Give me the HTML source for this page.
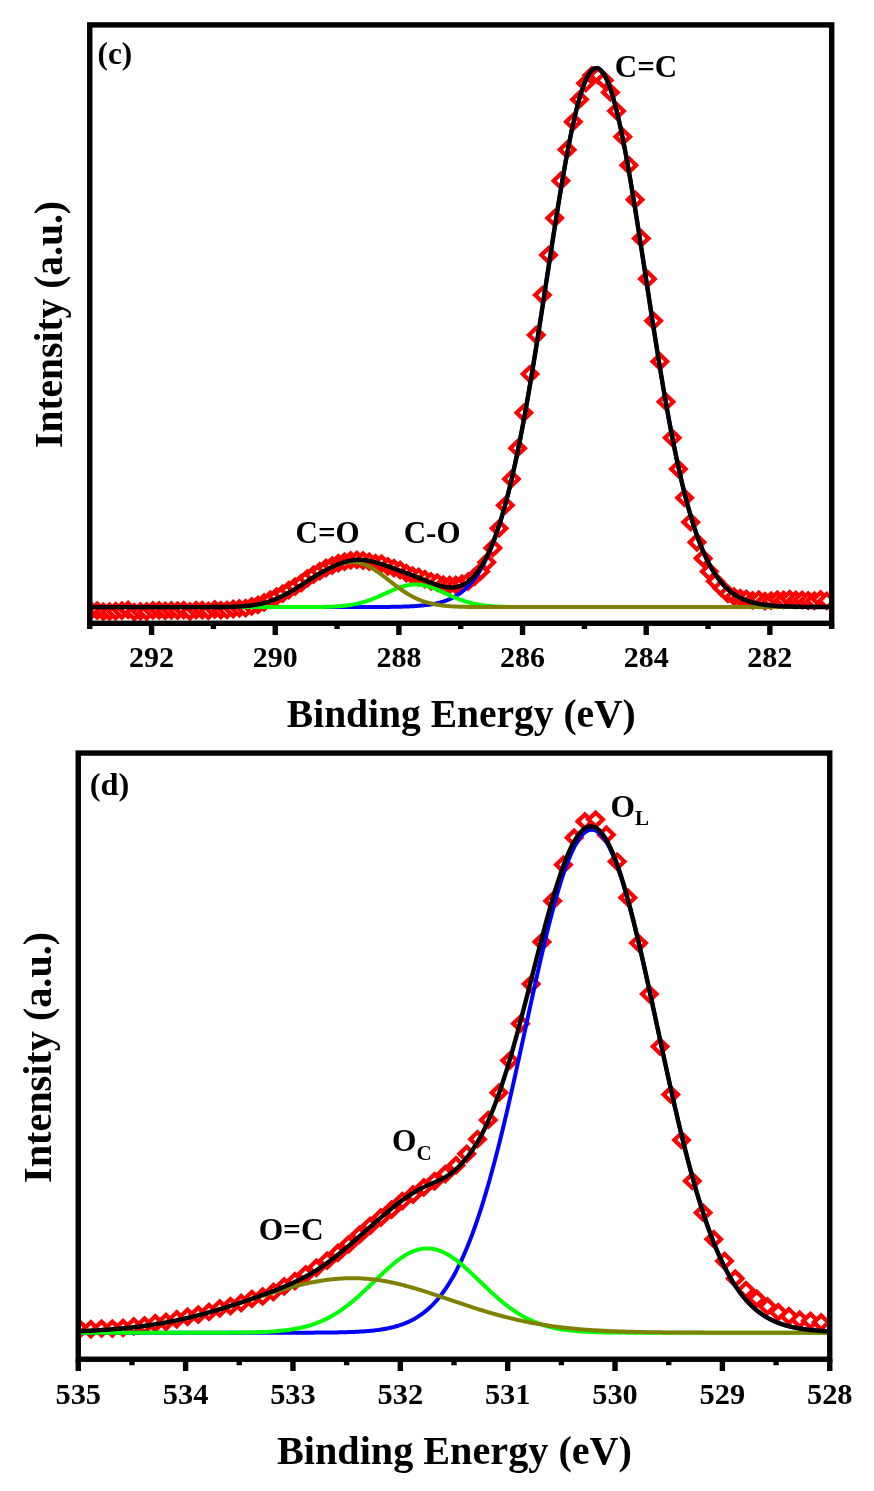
<!DOCTYPE html>
<html lang="en">
<head>
<meta charset="utf-8">
<title>XPS spectra: C 1s and O 1s</title>
<style>
html,body{margin:0;padding:0;background:#fff;}
body{width:874px;height:1491px;overflow:hidden;}
svg{display:block;will-change:transform;}
text{font-family:"Liberation Serif", "Times New Roman", Times, serif;font-weight:bold;fill:#000;}
.curve{fill:none;stroke-linejoin:round;stroke-linecap:butt;}
.mk{fill:#fff;stroke:#ff0000;stroke-width:4.25;stroke-linejoin:miter;}
</style>
</head>
<body>
<svg width="874" height="1491" viewBox="0 0 874 1491">
<rect x="0" y="0" width="874" height="1491" fill="#ffffff"/>
<defs>
<path id="dm" d="M-7.2 0L0 -6.95L7.2 0L0 6.95Z"/>
<clipPath id="clip1"><rect x="89.75" y="24.9" width="741.95" height="598.4"/></clipPath>
<clipPath id="clip2"><rect x="78.25" y="753.05" width="751.5" height="606.2"/></clipPath>
</defs>
<!-- panel (c): C 1s -->
<g clip-path="url(#clip1)">
<g class="mk"><use href="#dm" x="91" y="610.7"/><use href="#dm" x="97.18" y="610.6"/><use href="#dm" x="103.37" y="611.65"/><use href="#dm" x="109.55" y="611.66"/><use href="#dm" x="115.73" y="611.27"/><use href="#dm" x="121.91" y="610.55"/><use href="#dm" x="128.1" y="609.94"/><use href="#dm" x="134.28" y="612.05"/><use href="#dm" x="140.46" y="611.3"/><use href="#dm" x="146.65" y="611.48"/><use href="#dm" x="152.83" y="610.32"/><use href="#dm" x="159.01" y="610.33"/><use href="#dm" x="165.2" y="610.88"/><use href="#dm" x="171.38" y="610.43"/><use href="#dm" x="177.56" y="610.55"/><use href="#dm" x="183.75" y="610.08"/><use href="#dm" x="189.93" y="611.52"/><use href="#dm" x="196.11" y="610.12"/><use href="#dm" x="202.29" y="610.15"/><use href="#dm" x="208.48" y="610.83"/><use href="#dm" x="214.66" y="609.48"/><use href="#dm" x="220.84" y="610.2"/><use href="#dm" x="227.03" y="609.97"/><use href="#dm" x="233.21" y="608.98"/><use href="#dm" x="239.39" y="608.46"/><use href="#dm" x="245.57" y="608.22"/><use href="#dm" x="251.76" y="606.31"/><use href="#dm" x="257.94" y="604.87"/><use href="#dm" x="264.12" y="602.43"/><use href="#dm" x="270.31" y="599.72"/><use href="#dm" x="276.49" y="596.66"/><use href="#dm" x="282.67" y="593.7"/><use href="#dm" x="288.86" y="590.12"/><use href="#dm" x="295.04" y="586.63"/><use href="#dm" x="301.22" y="583.1"/><use href="#dm" x="307.4" y="578.29"/><use href="#dm" x="313.59" y="574.64"/><use href="#dm" x="319.77" y="571.18"/><use href="#dm" x="325.95" y="568"/><use href="#dm" x="332.14" y="565.58"/><use href="#dm" x="338.32" y="563.21"/><use href="#dm" x="344.5" y="561.72"/><use href="#dm" x="350.69" y="560.28"/><use href="#dm" x="356.87" y="559.94"/><use href="#dm" x="363.05" y="560.48"/><use href="#dm" x="369.24" y="561.72"/><use href="#dm" x="375.42" y="563.1"/><use href="#dm" x="381.6" y="563.58"/><use href="#dm" x="387.78" y="566.31"/><use href="#dm" x="393.97" y="568.19"/><use href="#dm" x="400.15" y="570"/><use href="#dm" x="406.33" y="573.12"/><use href="#dm" x="412.52" y="575.56"/><use href="#dm" x="418.7" y="576.96"/><use href="#dm" x="424.88" y="579.18"/><use href="#dm" x="431.06" y="581.28"/><use href="#dm" x="437.25" y="582.56"/><use href="#dm" x="443.43" y="584.7"/><use href="#dm" x="449.61" y="584.89"/><use href="#dm" x="455.8" y="584.94"/><use href="#dm" x="461.98" y="583.7"/><use href="#dm" x="468.16" y="581.49"/><use href="#dm" x="474.35" y="576.96"/><use href="#dm" x="480.53" y="571.44"/><use href="#dm" x="486.71" y="562.32"/><use href="#dm" x="492.89" y="548"/><use href="#dm" x="499.08" y="528.36"/><use href="#dm" x="505.26" y="505.28"/><use href="#dm" x="511.44" y="478.95"/><use href="#dm" x="517.63" y="448.16"/><use href="#dm" x="523.81" y="412.82"/><use href="#dm" x="529.99" y="374.05"/><use href="#dm" x="536.18" y="335.01"/><use href="#dm" x="542.36" y="295.09"/><use href="#dm" x="548.54" y="255.07"/><use href="#dm" x="554.72" y="218.04"/><use href="#dm" x="560.91" y="180.73"/><use href="#dm" x="567.09" y="149.65"/><use href="#dm" x="573.27" y="121.87"/><use href="#dm" x="579.46" y="99.42"/><use href="#dm" x="585.64" y="83.21"/><use href="#dm" x="591.82" y="75.3"/><use href="#dm" x="598.01" y="75.43"/><use href="#dm" x="604.19" y="80.31"/><use href="#dm" x="610.37" y="92.4"/><use href="#dm" x="616.55" y="111.04"/><use href="#dm" x="622.74" y="136.68"/><use href="#dm" x="628.92" y="165.26"/><use href="#dm" x="635.1" y="199.64"/><use href="#dm" x="641.29" y="238.44"/><use href="#dm" x="647.47" y="278.89"/><use href="#dm" x="653.65" y="320.84"/><use href="#dm" x="659.84" y="361.51"/><use href="#dm" x="666.02" y="401.84"/><use href="#dm" x="672.2" y="437.81"/><use href="#dm" x="678.38" y="469.01"/><use href="#dm" x="684.57" y="497.83"/><use href="#dm" x="690.75" y="522.13"/><use href="#dm" x="696.93" y="542.27"/><use href="#dm" x="703.12" y="558.39"/><use href="#dm" x="709.3" y="571.53"/><use href="#dm" x="715.48" y="581.37"/><use href="#dm" x="721.67" y="587.95"/><use href="#dm" x="727.85" y="593.84"/><use href="#dm" x="734.03" y="596.64"/><use href="#dm" x="740.22" y="598.08"/><use href="#dm" x="746.4" y="598.8"/><use href="#dm" x="752.58" y="600.39"/><use href="#dm" x="758.76" y="599.72"/><use href="#dm" x="764.95" y="601.08"/><use href="#dm" x="771.13" y="600.68"/><use href="#dm" x="777.31" y="599.63"/><use href="#dm" x="783.5" y="599.9"/><use href="#dm" x="789.68" y="599.06"/><use href="#dm" x="795.86" y="599.95"/><use href="#dm" x="802.04" y="599.98"/><use href="#dm" x="808.23" y="600.52"/><use href="#dm" x="814.41" y="600.75"/><use href="#dm" x="820.59" y="599.45"/><use href="#dm" x="826.78" y="600.78"/></g>
<path class="curve" stroke="#0000ff" stroke-width="4" d="M89.75 607.1L91.25 607.1L92.75 607.1L94.25 607.1L95.75 607.1L97.25 607.1L98.75 607.1L100.25 607.1L101.75 607.1L103.25 607.1L104.75 607.1L106.25 607.1L107.75 607.1L109.25 607.1L110.75 607.1L112.25 607.1L113.75 607.1L115.25 607.1L116.75 607.1L118.25 607.1L119.75 607.1L121.25 607.1L122.75 607.1L124.25 607.1L125.75 607.1L127.25 607.1L128.75 607.1L130.25 607.1L131.75 607.1L133.25 607.1L134.75 607.1L136.25 607.1L137.75 607.1L139.25 607.1L140.75 607.1L142.25 607.1L143.75 607.1L145.25 607.1L146.75 607.1L148.25 607.1L149.75 607.1L151.25 607.1L152.75 607.1L154.25 607.1L155.75 607.1L157.25 607.1L158.75 607.1L160.25 607.1L161.75 607.1L163.25 607.1L164.75 607.1L166.25 607.1L167.75 607.1L169.25 607.1L170.75 607.1L172.25 607.1L173.75 607.1L175.25 607.1L176.75 607.1L178.25 607.1L179.75 607.1L181.25 607.1L182.75 607.1L184.25 607.1L185.75 607.1L187.25 607.1L188.75 607.1L190.25 607.1L191.75 607.1L193.25 607.1L194.75 607.1L196.25 607.1L197.75 607.1L199.25 607.1L200.75 607.1L202.25 607.1L203.75 607.1L205.25 607.1L206.75 607.1L208.25 607.1L209.75 607.1L211.25 607.1L212.75 607.1L214.25 607.1L215.75 607.1L217.25 607.1L218.75 607.1L220.25 607.1L221.75 607.1L223.25 607.1L224.75 607.1L226.25 607.1L227.75 607.1L229.25 607.1L230.75 607.1L232.25 607.1L233.75 607.1L235.25 607.1L236.75 607.1L238.25 607.1L239.75 607.1L241.25 607.1L242.75 607.1L244.25 607.1L245.75 607.1L247.25 607.1L248.75 607.1L250.25 607.1L251.75 607.1L253.25 607.1L254.75 607.1L256.25 607.1L257.75 607.1L259.25 607.1L260.75 607.1L262.25 607.1L263.75 607.1L265.25 607.1L266.75 607.1L268.25 607.1L269.75 607.1L271.25 607.1L272.75 607.1L274.25 607.1L275.75 607.1L277.25 607.1L278.75 607.1L280.25 607.1L281.75 607.1L283.25 607.1L284.75 607.1L286.25 607.1L287.75 607.1L289.25 607.1L290.75 607.1L292.25 607.1L293.75 607.1L295.25 607.1L296.75 607.1L298.25 607.1L299.75 607.1L301.25 607.1L302.75 607.1L304.25 607.1L305.75 607.1L307.25 607.1L308.75 607.1L310.25 607.1L311.75 607.1L313.25 607.1L314.75 607.1L316.25 607.1L317.75 607.1L319.25 607.1L320.75 607.1L322.25 607.1L323.75 607.1L325.25 607.1L326.75 607.1L328.25 607.1L329.75 607.1L331.25 607.1L332.75 607.1L334.25 607.1L335.75 607.09L337.25 607.09L338.75 607.09L340.25 607.09L341.75 607.09L343.25 607.09L344.75 607.09L346.25 607.09L347.75 607.09L349.25 607.09L350.75 607.08L352.25 607.08L353.75 607.08L355.25 607.08L356.75 607.08L358.25 607.07L359.75 607.07L361.25 607.07L362.75 607.07L364.25 607.06L365.75 607.06L367.25 607.05L368.75 607.05L370.25 607.04L371.75 607.04L373.25 607.03L374.75 607.02L376.25 607.02L377.75 607.01L379.25 607L380.75 606.99L382.25 606.97L383.75 606.96L385.25 606.95L386.75 606.93L388.25 606.91L389.75 606.89L391.25 606.87L392.75 606.85L394.25 606.82L395.75 606.8L397.25 606.76L398.75 606.73L400.25 606.69L401.75 606.65L403.25 606.61L404.75 606.56L406.25 606.5L407.75 606.44L409.25 606.38L410.75 606.31L412.25 606.23L413.75 606.14L415.25 606.05L416.75 605.95L418.25 605.83L419.75 605.71L421.25 605.58L422.75 605.43L424.25 605.27L425.75 605.1L427.25 604.91L428.75 604.7L430.25 604.48L431.75 604.23L433.25 603.97L434.75 603.68L436.25 603.36L437.75 603.02L439.25 602.66L440.75 602.26L442.25 601.82L443.75 601.36L445.25 600.85L446.75 600.31L448.25 599.72L449.75 599.08L451.25 598.4L452.75 597.66L454.25 596.87L455.75 596.02L457.25 595.11L458.75 594.13L460.25 593.07L461.75 591.95L463.25 590.74L464.75 589.45L466.25 588.08L467.75 586.61L469.25 585.04L470.75 583.37L472.25 581.6L473.75 579.71L475.25 577.7L476.75 575.57L478.25 573.32L479.75 570.93L481.25 568.39L482.75 565.72L484.25 562.89L485.75 559.91L487.25 556.77L488.75 553.47L490.25 549.99L491.75 546.33L493.25 542.5L494.75 538.48L496.25 534.27L497.75 529.86L499.25 525.25L500.75 520.45L502.25 515.44L503.75 510.22L505.25 504.78L506.75 499.14L508.25 493.28L509.75 487.2L511.25 480.91L512.75 474.41L514.25 467.68L515.75 460.74L517.25 453.59L518.75 446.23L520.25 438.67L521.75 430.9L523.25 422.93L524.75 414.77L526.25 406.43L527.75 397.91L529.25 389.21L530.75 380.36L532.25 371.35L533.75 362.21L535.25 352.93L536.75 343.54L538.25 334.04L539.75 324.45L541.25 314.78L542.75 305.05L544.25 295.28L545.75 285.47L547.25 275.66L548.75 265.85L550.25 256.07L551.75 246.32L553.25 236.65L554.75 227.05L556.25 217.55L557.75 208.18L559.25 198.95L560.75 189.88L562.25 180.99L563.75 172.31L565.25 163.85L566.75 155.63L568.25 147.68L569.75 140.01L571.25 132.64L572.75 125.59L574.25 118.87L575.75 112.51L577.25 106.52L578.75 100.92L580.25 95.72L581.75 90.93L583.25 86.58L584.75 82.66L586.25 79.19L587.75 76.17L589.25 73.63L590.75 71.56L592.25 69.97L593.75 68.86L595.25 68.24L596.75 68.11L598.25 68.47L599.75 69.32L601.25 70.65L602.75 72.47L604.25 74.76L605.75 77.52L607.25 80.75L608.75 84.43L610.25 88.56L611.75 93.12L613.25 98.1L614.75 103.49L616.25 109.27L617.75 115.43L619.25 121.96L620.75 128.83L622.25 136.04L623.75 143.55L625.25 151.36L626.75 159.44L628.25 167.77L629.75 176.33L631.25 185.12L632.75 194.09L634.25 203.24L635.75 212.54L637.25 221.97L638.75 231.52L640.25 241.15L641.75 250.86L643.25 260.63L644.75 270.43L646.25 280.24L647.75 290.05L649.25 299.84L650.75 309.6L652.25 319.3L653.75 328.93L655.25 338.48L656.75 347.93L658.25 357.27L659.75 366.49L661.25 375.58L662.75 384.51L664.25 393.29L665.75 401.91L667.25 410.35L668.75 418.6L670.25 426.67L671.75 434.55L673.25 442.22L674.75 449.7L676.25 456.96L677.75 464.01L679.25 470.85L680.75 477.47L682.25 483.88L683.75 490.07L685.25 496.04L686.75 501.8L688.25 507.34L689.75 512.68L691.25 517.8L692.75 522.72L694.25 527.43L695.75 531.94L697.25 536.26L698.75 540.38L700.25 544.31L701.75 548.06L703.25 551.63L704.75 555.03L706.25 558.26L707.75 561.33L709.25 564.23L710.75 566.99L712.25 569.59L713.75 572.06L715.25 574.39L716.75 576.58L718.25 578.65L719.75 580.6L721.25 582.44L722.75 584.17L724.25 585.79L725.75 587.31L727.25 588.73L728.75 590.07L730.25 591.32L731.75 592.48L733.25 593.57L734.75 594.59L736.25 595.54L737.75 596.43L739.25 597.25L740.75 598.01L742.25 598.73L743.75 599.39L745.25 600L746.75 600.57L748.25 601.09L749.75 601.58L751.25 602.03L752.75 602.45L754.25 602.83L755.75 603.19L757.25 603.51L758.75 603.82L760.25 604.09L761.75 604.35L763.25 604.58L764.75 604.8L766.25 605L767.75 605.18L769.25 605.35L770.75 605.5L772.25 605.64L773.75 605.77L775.25 605.89L776.75 606L778.25 606.09L779.75 606.18L781.25 606.27L782.75 606.34L784.25 606.41L785.75 606.47L787.25 606.53L788.75 606.58L790.25 606.63L791.75 606.67L793.25 606.71L794.75 606.75L796.25 606.78L797.75 606.81L799.25 606.84L800.75 606.86L802.25 606.88L803.75 606.9L805.25 606.92L806.75 606.94L808.25 606.95L809.75 606.97L811.25 606.98L812.75 606.99L814.25 607L815.75 607.01L817.25 607.02L818.75 607.03L820.25 607.03L821.75 607.04L823.25 607.05L824.75 607.05L826.25 607.06L827.75 607.06L829.25 607.06L830.75 607.07L832.25 607.07L833.75 607.07"/>
<path class="curve" stroke="#00ff00" stroke-width="4" d="M89.75 607.1L91.25 607.1L92.75 607.1L94.25 607.1L95.75 607.1L97.25 607.1L98.75 607.1L100.25 607.1L101.75 607.1L103.25 607.1L104.75 607.1L106.25 607.1L107.75 607.1L109.25 607.1L110.75 607.1L112.25 607.1L113.75 607.1L115.25 607.1L116.75 607.1L118.25 607.1L119.75 607.1L121.25 607.1L122.75 607.1L124.25 607.1L125.75 607.1L127.25 607.1L128.75 607.1L130.25 607.1L131.75 607.1L133.25 607.1L134.75 607.1L136.25 607.1L137.75 607.1L139.25 607.1L140.75 607.1L142.25 607.1L143.75 607.1L145.25 607.1L146.75 607.1L148.25 607.1L149.75 607.1L151.25 607.1L152.75 607.1L154.25 607.1L155.75 607.1L157.25 607.1L158.75 607.1L160.25 607.1L161.75 607.1L163.25 607.1L164.75 607.1L166.25 607.1L167.75 607.1L169.25 607.1L170.75 607.1L172.25 607.1L173.75 607.1L175.25 607.1L176.75 607.1L178.25 607.1L179.75 607.1L181.25 607.1L182.75 607.1L184.25 607.1L185.75 607.1L187.25 607.1L188.75 607.1L190.25 607.1L191.75 607.1L193.25 607.1L194.75 607.1L196.25 607.1L197.75 607.1L199.25 607.1L200.75 607.1L202.25 607.1L203.75 607.1L205.25 607.1L206.75 607.1L208.25 607.1L209.75 607.1L211.25 607.1L212.75 607.1L214.25 607.1L215.75 607.1L217.25 607.1L218.75 607.1L220.25 607.1L221.75 607.1L223.25 607.1L224.75 607.1L226.25 607.1L227.75 607.1L229.25 607.1L230.75 607.1L232.25 607.1L233.75 607.1L235.25 607.1L236.75 607.1L238.25 607.1L239.75 607.1L241.25 607.1L242.75 607.1L244.25 607.1L245.75 607.1L247.25 607.1L248.75 607.1L250.25 607.1L251.75 607.1L253.25 607.1L254.75 607.1L256.25 607.1L257.75 607.1L259.25 607.1L260.75 607.1L262.25 607.1L263.75 607.1L265.25 607.1L266.75 607.1L268.25 607.1L269.75 607.1L271.25 607.1L272.75 607.1L274.25 607.1L275.75 607.1L277.25 607.1L278.75 607.1L280.25 607.1L281.75 607.1L283.25 607.1L284.75 607.1L286.25 607.1L287.75 607.1L289.25 607.1L290.75 607.1L292.25 607.1L293.75 607.09L295.25 607.09L296.75 607.09L298.25 607.09L299.75 607.09L301.25 607.08L302.75 607.08L304.25 607.08L305.75 607.07L307.25 607.07L308.75 607.06L310.25 607.05L311.75 607.04L313.25 607.03L314.75 607.02L316.25 607.01L317.75 606.99L319.25 606.97L320.75 606.95L322.25 606.92L323.75 606.89L325.25 606.86L326.75 606.82L328.25 606.77L329.75 606.72L331.25 606.66L332.75 606.6L334.25 606.52L335.75 606.44L337.25 606.35L338.75 606.24L340.25 606.13L341.75 606L343.25 605.86L344.75 605.7L346.25 605.53L347.75 605.34L349.25 605.13L350.75 604.9L352.25 604.65L353.75 604.38L355.25 604.09L356.75 603.78L358.25 603.44L359.75 603.08L361.25 602.69L362.75 602.28L364.25 601.85L365.75 601.39L367.25 600.9L368.75 600.39L370.25 599.85L371.75 599.3L373.25 598.72L374.75 598.12L376.25 597.5L377.75 596.86L379.25 596.21L380.75 595.55L382.25 594.87L383.75 594.19L385.25 593.51L386.75 592.82L388.25 592.14L389.75 591.46L391.25 590.8L392.75 590.15L394.25 589.51L395.75 588.9L397.25 588.32L398.75 587.76L400.25 587.24L401.75 586.75L403.25 586.31L404.75 585.91L406.25 585.55L407.75 585.24L409.25 584.99L410.75 584.78L412.25 584.63L413.75 584.54L415.25 584.5L416.75 584.52L418.25 584.59L419.75 584.73L421.25 584.91L422.75 585.15L424.25 585.44L425.75 585.78L427.25 586.17L428.75 586.6L430.25 587.07L431.75 587.58L433.25 588.13L434.75 588.7L436.25 589.31L437.75 589.93L439.25 590.58L440.75 591.24L442.25 591.91L443.75 592.59L445.25 593.28L446.75 593.96L448.25 594.65L449.75 595.32L451.25 595.99L452.75 596.64L454.25 597.29L455.75 597.91L457.25 598.52L458.75 599.11L460.25 599.67L461.75 600.21L463.25 600.73L464.75 601.23L466.25 601.7L467.75 602.14L469.25 602.56L470.75 602.95L472.25 603.32L473.75 603.67L475.25 603.99L476.75 604.29L478.25 604.56L479.75 604.82L481.25 605.05L482.75 605.27L484.25 605.46L485.75 605.64L487.25 605.81L488.75 605.95L490.25 606.09L491.75 606.21L493.25 606.31L494.75 606.41L496.25 606.5L497.75 606.57L499.25 606.64L500.75 606.7L502.25 606.75L503.75 606.8L505.25 606.84L506.75 606.88L508.25 606.91L509.75 606.94L511.25 606.96L512.75 606.98L514.25 607L515.75 607.02L517.25 607.03L518.75 607.04L520.25 607.05L521.75 607.06L523.25 607.06L524.75 607.07L526.25 607.08L527.75 607.08L529.25 607.08L530.75 607.09L532.25 607.09L533.75 607.09L535.25 607.09L536.75 607.09L538.25 607.09L539.75 607.1L541.25 607.1L542.75 607.1L544.25 607.1L545.75 607.1L547.25 607.1L548.75 607.1L550.25 607.1L551.75 607.1L553.25 607.1L554.75 607.1L556.25 607.1L557.75 607.1L559.25 607.1L560.75 607.1L562.25 607.1L563.75 607.1L565.25 607.1L566.75 607.1L568.25 607.1L569.75 607.1L571.25 607.1L572.75 607.1L574.25 607.1L575.75 607.1L577.25 607.1L578.75 607.1L580.25 607.1L581.75 607.1L583.25 607.1L584.75 607.1L586.25 607.1L587.75 607.1L589.25 607.1L590.75 607.1L592.25 607.1L593.75 607.1L595.25 607.1L596.75 607.1L598.25 607.1L599.75 607.1L601.25 607.1L602.75 607.1L604.25 607.1L605.75 607.1L607.25 607.1L608.75 607.1L610.25 607.1L611.75 607.1L613.25 607.1L614.75 607.1L616.25 607.1L617.75 607.1L619.25 607.1L620.75 607.1L622.25 607.1L623.75 607.1L625.25 607.1L626.75 607.1L628.25 607.1L629.75 607.1L631.25 607.1L632.75 607.1L634.25 607.1L635.75 607.1L637.25 607.1L638.75 607.1L640.25 607.1L641.75 607.1L643.25 607.1L644.75 607.1L646.25 607.1L647.75 607.1L649.25 607.1L650.75 607.1L652.25 607.1L653.75 607.1L655.25 607.1L656.75 607.1L658.25 607.1L659.75 607.1L661.25 607.1L662.75 607.1L664.25 607.1L665.75 607.1L667.25 607.1L668.75 607.1L670.25 607.1L671.75 607.1L673.25 607.1L674.75 607.1L676.25 607.1L677.75 607.1L679.25 607.1L680.75 607.1L682.25 607.1L683.75 607.1L685.25 607.1L686.75 607.1L688.25 607.1L689.75 607.1L691.25 607.1L692.75 607.1L694.25 607.1L695.75 607.1L697.25 607.1L698.75 607.1L700.25 607.1L701.75 607.1L703.25 607.1L704.75 607.1L706.25 607.1L707.75 607.1L709.25 607.1L710.75 607.1L712.25 607.1L713.75 607.1L715.25 607.1L716.75 607.1L718.25 607.1L719.75 607.1L721.25 607.1L722.75 607.1L724.25 607.1L725.75 607.1L727.25 607.1L728.75 607.1L730.25 607.1L731.75 607.1L733.25 607.1L734.75 607.1L736.25 607.1L737.75 607.1L739.25 607.1L740.75 607.1L742.25 607.1L743.75 607.1L745.25 607.1L746.75 607.1L748.25 607.1L749.75 607.1L751.25 607.1L752.75 607.1L754.25 607.1L755.75 607.1L757.25 607.1L758.75 607.1L760.25 607.1L761.75 607.1L763.25 607.1L764.75 607.1L766.25 607.1L767.75 607.1L769.25 607.1L770.75 607.1L772.25 607.1L773.75 607.1L775.25 607.1L776.75 607.1L778.25 607.1L779.75 607.1L781.25 607.1L782.75 607.1L784.25 607.1L785.75 607.1L787.25 607.1L788.75 607.1L790.25 607.1L791.75 607.1L793.25 607.1L794.75 607.1L796.25 607.1L797.75 607.1L799.25 607.1L800.75 607.1L802.25 607.1L803.75 607.1L805.25 607.1L806.75 607.1L808.25 607.1L809.75 607.1L811.25 607.1L812.75 607.1L814.25 607.1L815.75 607.1L817.25 607.1L818.75 607.1L820.25 607.1L821.75 607.1L823.25 607.1L824.75 607.1L826.25 607.1L827.75 607.1L829.25 607.1L830.75 607.1L832.25 607.1L833.75 607.1"/>
<path class="curve" stroke="#808000" stroke-width="4" d="M89.75 607.1L91.25 607.1L92.75 607.1L94.25 607.1L95.75 607.1L97.25 607.1L98.75 607.1L100.25 607.1L101.75 607.1L103.25 607.1L104.75 607.1L106.25 607.1L107.75 607.1L109.25 607.1L110.75 607.1L112.25 607.1L113.75 607.1L115.25 607.1L116.75 607.1L118.25 607.1L119.75 607.1L121.25 607.1L122.75 607.1L124.25 607.1L125.75 607.1L127.25 607.1L128.75 607.1L130.25 607.1L131.75 607.1L133.25 607.1L134.75 607.1L136.25 607.1L137.75 607.1L139.25 607.1L140.75 607.1L142.25 607.1L143.75 607.1L145.25 607.1L146.75 607.1L148.25 607.1L149.75 607.1L151.25 607.1L152.75 607.1L154.25 607.1L155.75 607.1L157.25 607.1L158.75 607.1L160.25 607.1L161.75 607.1L163.25 607.1L164.75 607.1L166.25 607.1L167.75 607.1L169.25 607.1L170.75 607.1L172.25 607.1L173.75 607.1L175.25 607.1L176.75 607.1L178.25 607.1L179.75 607.1L181.25 607.1L182.75 607.1L184.25 607.1L185.75 607.1L187.25 607.1L188.75 607.1L190.25 607.1L191.75 607.1L193.25 607.1L194.75 607.1L196.25 607.1L197.75 607.1L199.25 607.09L200.75 607.09L202.25 607.09L203.75 607.09L205.25 607.09L206.75 607.09L208.25 607.08L209.75 607.08L211.25 607.07L212.75 607.07L214.25 607.06L215.75 607.05L217.25 607.04L218.75 607.03L220.25 607.02L221.75 607.01L223.25 606.99L224.75 606.97L226.25 606.94L227.75 606.92L229.25 606.88L230.75 606.85L232.25 606.8L233.75 606.76L235.25 606.7L236.75 606.64L238.25 606.57L239.75 606.49L241.25 606.4L242.75 606.29L244.25 606.18L245.75 606.05L247.25 605.91L248.75 605.75L250.25 605.58L251.75 605.39L253.25 605.18L254.75 604.95L256.25 604.69L257.75 604.42L259.25 604.12L260.75 603.8L262.25 603.45L263.75 603.08L265.25 602.68L266.75 602.25L268.25 601.79L269.75 601.3L271.25 600.79L272.75 600.24L274.25 599.67L275.75 599.07L277.25 598.43L278.75 597.77L280.25 597.08L281.75 596.37L283.25 595.62L284.75 594.85L286.25 594.06L287.75 593.24L289.25 592.4L290.75 591.54L292.25 590.65L293.75 589.75L295.25 588.84L296.75 587.91L298.25 586.96L299.75 586L301.25 585.04L302.75 584.06L304.25 583.08L305.75 582.09L307.25 581.1L308.75 580.13L310.25 579.17L311.75 578.23L313.25 577.3L314.75 576.4L316.25 575.51L317.75 574.63L319.25 573.78L320.75 572.94L322.25 572.12L323.75 571.33L325.25 570.55L326.75 569.79L328.25 569.06L329.75 568.34L331.25 567.66L332.75 567L334.25 566.37L335.75 565.77L337.25 565.2L338.75 564.68L340.25 564.19L341.75 563.75L343.25 563.36L344.75 563.02L346.25 562.73L347.75 562.5L349.25 562.33L350.75 562.23L352.25 562.19L353.75 562.22L355.25 562.32L356.75 562.49L358.25 562.73L359.75 563.04L361.25 563.43L362.75 563.88L364.25 564.41L365.75 565.01L367.25 565.67L368.75 566.39L370.25 567.18L371.75 568.02L373.25 568.91L374.75 569.86L376.25 570.85L377.75 571.88L379.25 572.94L380.75 574.04L382.25 575.16L383.75 576.31L385.25 577.47L386.75 578.64L388.25 579.82L389.75 580.99L391.25 582.17L392.75 583.34L394.25 584.5L395.75 585.64L397.25 586.77L398.75 587.87L400.25 588.95L401.75 590L403.25 591.02L404.75 592.02L406.25 592.97L407.75 593.89L409.25 594.78L410.75 595.63L412.25 596.44L413.75 597.21L415.25 597.95L416.75 598.64L418.25 599.3L419.75 599.92L421.25 600.51L422.75 601.06L424.25 601.57L425.75 602.05L427.25 602.5L428.75 602.91L430.25 603.3L431.75 603.66L433.25 603.99L434.75 604.29L436.25 604.57L437.75 604.82L439.25 605.06L440.75 605.27L442.25 605.47L443.75 605.64L445.25 605.8L446.75 605.95L448.25 606.08L449.75 606.19L451.25 606.3L452.75 606.39L454.25 606.48L455.75 606.55L457.25 606.62L458.75 606.68L460.25 606.73L461.75 606.78L463.25 606.82L464.75 606.86L466.25 606.89L467.75 606.92L469.25 606.94L470.75 606.97L472.25 606.98L473.75 607L475.25 607.02L476.75 607.03L478.25 607.04L479.75 607.05L481.25 607.06L482.75 607.06L484.25 607.07L485.75 607.07L487.25 607.08L488.75 607.08L490.25 607.08L491.75 607.09L493.25 607.09L494.75 607.09L496.25 607.09L497.75 607.09L499.25 607.09L500.75 607.1L502.25 607.1L503.75 607.1L505.25 607.1L506.75 607.1L508.25 607.1L509.75 607.1L511.25 607.1L512.75 607.1L514.25 607.1L515.75 607.1L517.25 607.1L518.75 607.1L520.25 607.1L521.75 607.1L523.25 607.1L524.75 607.1L526.25 607.1L527.75 607.1L529.25 607.1L530.75 607.1L532.25 607.1L533.75 607.1L535.25 607.1L536.75 607.1L538.25 607.1L539.75 607.1L541.25 607.1L542.75 607.1L544.25 607.1L545.75 607.1L547.25 607.1L548.75 607.1L550.25 607.1L551.75 607.1L553.25 607.1L554.75 607.1L556.25 607.1L557.75 607.1L559.25 607.1L560.75 607.1L562.25 607.1L563.75 607.1L565.25 607.1L566.75 607.1L568.25 607.1L569.75 607.1L571.25 607.1L572.75 607.1L574.25 607.1L575.75 607.1L577.25 607.1L578.75 607.1L580.25 607.1L581.75 607.1L583.25 607.1L584.75 607.1L586.25 607.1L587.75 607.1L589.25 607.1L590.75 607.1L592.25 607.1L593.75 607.1L595.25 607.1L596.75 607.1L598.25 607.1L599.75 607.1L601.25 607.1L602.75 607.1L604.25 607.1L605.75 607.1L607.25 607.1L608.75 607.1L610.25 607.1L611.75 607.1L613.25 607.1L614.75 607.1L616.25 607.1L617.75 607.1L619.25 607.1L620.75 607.1L622.25 607.1L623.75 607.1L625.25 607.1L626.75 607.1L628.25 607.1L629.75 607.1L631.25 607.1L632.75 607.1L634.25 607.1L635.75 607.1L637.25 607.1L638.75 607.1L640.25 607.1L641.75 607.1L643.25 607.1L644.75 607.1L646.25 607.1L647.75 607.1L649.25 607.1L650.75 607.1L652.25 607.1L653.75 607.1L655.25 607.1L656.75 607.1L658.25 607.1L659.75 607.1L661.25 607.1L662.75 607.1L664.25 607.1L665.75 607.1L667.25 607.1L668.75 607.1L670.25 607.1L671.75 607.1L673.25 607.1L674.75 607.1L676.25 607.1L677.75 607.1L679.25 607.1L680.75 607.1L682.25 607.1L683.75 607.1L685.25 607.1L686.75 607.1L688.25 607.1L689.75 607.1L691.25 607.1L692.75 607.1L694.25 607.1L695.75 607.1L697.25 607.1L698.75 607.1L700.25 607.1L701.75 607.1L703.25 607.1L704.75 607.1L706.25 607.1L707.75 607.1L709.25 607.1L710.75 607.1L712.25 607.1L713.75 607.1L715.25 607.1L716.75 607.1L718.25 607.1L719.75 607.1L721.25 607.1L722.75 607.1L724.25 607.1L725.75 607.1L727.25 607.1L728.75 607.1L730.25 607.1L731.75 607.1L733.25 607.1L734.75 607.1L736.25 607.1L737.75 607.1L739.25 607.1L740.75 607.1L742.25 607.1L743.75 607.1L745.25 607.1L746.75 607.1L748.25 607.1L749.75 607.1L751.25 607.1L752.75 607.1L754.25 607.1L755.75 607.1L757.25 607.1L758.75 607.1L760.25 607.1L761.75 607.1L763.25 607.1L764.75 607.1L766.25 607.1L767.75 607.1L769.25 607.1L770.75 607.1L772.25 607.1L773.75 607.1L775.25 607.1L776.75 607.1L778.25 607.1L779.75 607.1L781.25 607.1L782.75 607.1L784.25 607.1L785.75 607.1L787.25 607.1L788.75 607.1L790.25 607.1L791.75 607.1L793.25 607.1L794.75 607.1L796.25 607.1L797.75 607.1L799.25 607.1L800.75 607.1L802.25 607.1L803.75 607.1L805.25 607.1L806.75 607.1L808.25 607.1L809.75 607.1L811.25 607.1L812.75 607.1L814.25 607.1L815.75 607.1L817.25 607.1L818.75 607.1L820.25 607.1L821.75 607.1L823.25 607.1L824.75 607.1L826.25 607.1L827.75 607.1L829.25 607.1L830.75 607.1L832.25 607.1L833.75 607.1"/>
<path class="curve" stroke="#000000" stroke-width="4.4" d="M89.75 607.1L91.25 607.1L92.75 607.1L94.25 607.1L95.75 607.1L97.25 607.1L98.75 607.1L100.25 607.1L101.75 607.1L103.25 607.1L104.75 607.1L106.25 607.1L107.75 607.1L109.25 607.1L110.75 607.1L112.25 607.1L113.75 607.1L115.25 607.1L116.75 607.1L118.25 607.1L119.75 607.1L121.25 607.1L122.75 607.1L124.25 607.1L125.75 607.1L127.25 607.1L128.75 607.1L130.25 607.1L131.75 607.1L133.25 607.1L134.75 607.1L136.25 607.1L137.75 607.1L139.25 607.1L140.75 607.1L142.25 607.1L143.75 607.1L145.25 607.1L146.75 607.1L148.25 607.1L149.75 607.1L151.25 607.1L152.75 607.1L154.25 607.1L155.75 607.1L157.25 607.1L158.75 607.1L160.25 607.1L161.75 607.1L163.25 607.1L164.75 607.1L166.25 607.1L167.75 607.1L169.25 607.1L170.75 607.1L172.25 607.1L173.75 607.1L175.25 607.1L176.75 607.1L178.25 607.1L179.75 607.1L181.25 607.1L182.75 607.1L184.25 607.1L185.75 607.1L187.25 607.1L188.75 607.1L190.25 607.1L191.75 607.1L193.25 607.1L194.75 607.1L196.25 607.1L197.75 607.1L199.25 607.09L200.75 607.09L202.25 607.09L203.75 607.09L205.25 607.09L206.75 607.09L208.25 607.08L209.75 607.08L211.25 607.07L212.75 607.07L214.25 607.06L215.75 607.05L217.25 607.04L218.75 607.03L220.25 607.02L221.75 607.01L223.25 606.99L224.75 606.97L226.25 606.94L227.75 606.92L229.25 606.88L230.75 606.85L232.25 606.8L233.75 606.76L235.25 606.7L236.75 606.64L238.25 606.57L239.75 606.49L241.25 606.4L242.75 606.29L244.25 606.18L245.75 606.05L247.25 605.91L248.75 605.75L250.25 605.58L251.75 605.39L253.25 605.18L254.75 604.95L256.25 604.69L257.75 604.42L259.25 604.12L260.75 603.8L262.25 603.45L263.75 603.08L265.25 602.68L266.75 602.25L268.25 601.79L269.75 601.3L271.25 600.79L272.75 600.24L274.25 599.67L275.75 599.07L277.25 598.43L278.75 597.77L280.25 597.08L281.75 596.37L283.25 595.62L284.75 594.85L286.25 594.06L287.75 593.24L289.25 592.4L290.75 591.54L292.25 590.66L293.75 589.76L295.25 588.84L296.75 587.91L298.25 586.96L299.75 586L301.25 585.04L302.75 584.06L304.25 583.07L305.75 582.08L307.25 581.1L308.75 580.12L310.25 579.16L311.75 578.21L313.25 577.28L314.75 576.37L316.25 575.47L317.75 574.58L319.25 573.72L320.75 572.87L322.25 572.03L323.75 571.22L325.25 570.41L326.75 569.63L328.25 568.86L329.75 568.12L331.25 567.39L332.75 566.68L334.25 565.99L335.75 565.33L337.25 564.7L338.75 564.09L340.25 563.52L341.75 562.97L343.25 562.47L344.75 562L346.25 561.57L347.75 561.18L349.25 560.84L350.75 560.55L352.25 560.3L353.75 560.1L355.25 559.95L356.75 559.85L358.25 559.8L359.75 559.8L361.25 559.85L362.75 559.94L364.25 560.08L365.75 560.27L367.25 560.49L368.75 560.76L370.25 561.06L371.75 561.4L373.25 561.77L374.75 562.16L376.25 562.58L377.75 563.03L379.25 563.49L380.75 563.97L382.25 564.46L383.75 564.96L385.25 565.48L386.75 566L388.25 566.53L389.75 567.06L391.25 567.59L392.75 568.13L394.25 568.66L395.75 569.2L397.25 569.74L398.75 570.28L400.25 570.83L401.75 571.37L403.25 571.92L404.75 572.47L406.25 573.02L407.75 573.58L409.25 574.14L410.75 574.71L412.25 575.28L413.75 575.86L415.25 576.45L416.75 577.04L418.25 577.63L419.75 578.23L421.25 578.84L422.75 579.44L424.25 580.05L425.75 580.65L427.25 581.25L428.75 581.84L430.25 582.43L431.75 583L433.25 583.55L434.75 584.09L436.25 584.6L437.75 585.08L439.25 585.54L440.75 585.95L442.25 586.33L443.75 586.66L445.25 586.94L446.75 587.17L448.25 587.33L449.75 587.43L451.25 587.47L452.75 587.43L454.25 587.31L455.75 587.11L457.25 586.82L458.75 586.44L460.25 585.96L461.75 585.37L463.25 584.69L464.75 583.89L466.25 582.97L467.75 581.94L469.25 580.78L470.75 579.49L472.25 578.08L473.75 576.52L475.25 574.82L476.75 572.97L478.25 570.98L479.75 568.83L481.25 566.52L482.75 564.05L484.25 561.41L485.75 558.59L487.25 555.6L488.75 552.43L490.25 549.08L491.75 545.53L493.25 541.8L494.75 537.86L496.25 533.73L497.75 529.39L499.25 524.85L500.75 520.1L502.25 515.13L503.75 509.96L505.25 504.56L506.75 498.95L508.25 493.12L509.75 487.07L511.25 480.8L512.75 474.31L514.25 467.6L515.75 460.67L517.25 453.53L518.75 446.18L520.25 438.63L521.75 430.86L523.25 422.9L524.75 414.75L526.25 406.41L527.75 397.89L529.25 389.2L530.75 380.35L532.25 371.35L533.75 362.2L535.25 352.92L536.75 343.53L538.25 334.03L539.75 324.44L541.25 314.78L542.75 305.05L544.25 295.27L545.75 285.47L547.25 275.66L548.75 265.85L550.25 256.07L551.75 246.32L553.25 236.65L554.75 227.05L556.25 217.55L557.75 208.18L559.25 198.95L560.75 189.88L562.25 180.99L563.75 172.31L565.25 163.85L566.75 155.63L568.25 147.68L569.75 140.01L571.25 132.64L572.75 125.59L574.25 118.87L575.75 112.51L577.25 106.52L578.75 100.92L580.25 95.72L581.75 90.93L583.25 86.58L584.75 82.66L586.25 79.19L587.75 76.17L589.25 73.63L590.75 71.56L592.25 69.97L593.75 68.86L595.25 68.24L596.75 68.11L598.25 68.47L599.75 69.32L601.25 70.65L602.75 72.47L604.25 74.76L605.75 77.52L607.25 80.75L608.75 84.43L610.25 88.56L611.75 93.12L613.25 98.1L614.75 103.49L616.25 109.27L617.75 115.43L619.25 121.96L620.75 128.83L622.25 136.04L623.75 143.55L625.25 151.36L626.75 159.44L628.25 167.77L629.75 176.33L631.25 185.12L632.75 194.09L634.25 203.24L635.75 212.54L637.25 221.97L638.75 231.52L640.25 241.15L641.75 250.86L643.25 260.63L644.75 270.43L646.25 280.24L647.75 290.05L649.25 299.84L650.75 309.6L652.25 319.3L653.75 328.93L655.25 338.48L656.75 347.93L658.25 357.27L659.75 366.49L661.25 375.58L662.75 384.51L664.25 393.29L665.75 401.91L667.25 410.35L668.75 418.6L670.25 426.67L671.75 434.55L673.25 442.22L674.75 449.7L676.25 456.96L677.75 464.01L679.25 470.85L680.75 477.47L682.25 483.88L683.75 490.07L685.25 496.04L686.75 501.8L688.25 507.34L689.75 512.68L691.25 517.8L692.75 522.72L694.25 527.43L695.75 531.94L697.25 536.26L698.75 540.38L700.25 544.31L701.75 548.06L703.25 551.63L704.75 555.03L706.25 558.26L707.75 561.33L709.25 564.23L710.75 566.99L712.25 569.59L713.75 572.06L715.25 574.39L716.75 576.58L718.25 578.65L719.75 580.6L721.25 582.44L722.75 584.17L724.25 585.79L725.75 587.31L727.25 588.73L728.75 590.07L730.25 591.32L731.75 592.48L733.25 593.57L734.75 594.59L736.25 595.54L737.75 596.43L739.25 597.25L740.75 598.01L742.25 598.73L743.75 599.39L745.25 600L746.75 600.57L748.25 601.09L749.75 601.58L751.25 602.03L752.75 602.45L754.25 602.83L755.75 603.19L757.25 603.51L758.75 603.82L760.25 604.09L761.75 604.35L763.25 604.58L764.75 604.8L766.25 605L767.75 605.18L769.25 605.35L770.75 605.5L772.25 605.64L773.75 605.77L775.25 605.89L776.75 606L778.25 606.09L779.75 606.18L781.25 606.27L782.75 606.34L784.25 606.41L785.75 606.47L787.25 606.53L788.75 606.58L790.25 606.63L791.75 606.67L793.25 606.71L794.75 606.75L796.25 606.78L797.75 606.81L799.25 606.84L800.75 606.86L802.25 606.88L803.75 606.9L805.25 606.92L806.75 606.94L808.25 606.95L809.75 606.97L811.25 606.98L812.75 606.99L814.25 607L815.75 607.01L817.25 607.02L818.75 607.03L820.25 607.03L821.75 607.04L823.25 607.05L824.75 607.05L826.25 607.06L827.75 607.06L829.25 607.06L830.75 607.07L832.25 607.07L833.75 607.07"/>
</g>
<rect x="89.75" y="24.9" width="741.95" height="598.4" fill="none" stroke="#000" stroke-width="5.4"/>
<path d="M151.58 623.3V635M275.24 623.3V635M398.89 623.3V635M522.55 623.3V635M646.21 623.3V635M769.87 623.3V635M89.75 623.3V629M213.41 623.3V629M337.07 623.3V629M460.72 623.3V629M584.38 623.3V629M708.04 623.3V629M831.7 623.3V629" stroke="#000" stroke-width="5.4" fill="none"/>
<text x="151.58" y="667.4" font-size="30" text-anchor="middle">292</text>
<text x="275.24" y="667.4" font-size="30" text-anchor="middle">290</text>
<text x="398.89" y="667.4" font-size="30" text-anchor="middle">288</text>
<text x="522.55" y="667.4" font-size="30" text-anchor="middle">286</text>
<text x="646.21" y="667.4" font-size="30" text-anchor="middle">284</text>
<text x="769.87" y="667.4" font-size="30" text-anchor="middle">282</text>
<text x="97.5" y="63.8" font-size="31.3">(c)</text>
<text x="614.8" y="76.7" font-size="31">C=C</text>
<text x="295.5" y="543.4" font-size="31">C=O</text>
<text x="403.7" y="543.4" font-size="31">C-O</text>
<text x="461.3" y="727" font-size="39.5" text-anchor="middle">Binding Energy (eV)</text>
<text transform="translate(61.8 324.5) rotate(-90)" font-size="39.5" text-anchor="middle">Intensity (a.u.)</text>
<!-- panel (d): O 1s -->
<g clip-path="url(#clip2)">
<g class="mk"><use href="#dm" x="80.1" y="1328.97"/><use href="#dm" x="90.84" y="1329.25"/><use href="#dm" x="101.58" y="1328.61"/><use href="#dm" x="112.32" y="1328.62"/><use href="#dm" x="123.06" y="1327.89"/><use href="#dm" x="133.8" y="1326.31"/><use href="#dm" x="144.54" y="1325.35"/><use href="#dm" x="155.28" y="1323.24"/><use href="#dm" x="166.02" y="1321.82"/><use href="#dm" x="176.76" y="1319.26"/><use href="#dm" x="187.5" y="1316.75"/><use href="#dm" x="198.24" y="1314.57"/><use href="#dm" x="208.98" y="1311.97"/><use href="#dm" x="219.72" y="1308.47"/><use href="#dm" x="230.46" y="1306.07"/><use href="#dm" x="241.2" y="1302.98"/><use href="#dm" x="251.94" y="1298.88"/><use href="#dm" x="262.68" y="1296.42"/><use href="#dm" x="273.42" y="1291.99"/><use href="#dm" x="284.16" y="1286.4"/><use href="#dm" x="294.9" y="1281.21"/><use href="#dm" x="305.64" y="1274.38"/><use href="#dm" x="316.38" y="1267.76"/><use href="#dm" x="327.12" y="1260.71"/><use href="#dm" x="337.86" y="1252.95"/><use href="#dm" x="348.6" y="1244.28"/><use href="#dm" x="359.34" y="1234.88"/><use href="#dm" x="370.08" y="1225.83"/><use href="#dm" x="380.82" y="1217.51"/><use href="#dm" x="391.56" y="1209.63"/><use href="#dm" x="402.3" y="1201.03"/><use href="#dm" x="413.04" y="1194.52"/><use href="#dm" x="423.78" y="1187.46"/><use href="#dm" x="434.52" y="1181.23"/><use href="#dm" x="445.26" y="1174.12"/><use href="#dm" x="456" y="1165.23"/><use href="#dm" x="466.74" y="1153.86"/><use href="#dm" x="477.48" y="1139.17"/><use href="#dm" x="488.22" y="1119.93"/><use href="#dm" x="498.96" y="1092.69"/><use href="#dm" x="509.7" y="1060.53"/><use href="#dm" x="520.44" y="1023.65"/><use href="#dm" x="531.18" y="984.07"/><use href="#dm" x="541.92" y="941.89"/><use href="#dm" x="552.66" y="900.95"/><use href="#dm" x="563.4" y="864.74"/><use href="#dm" x="574.14" y="837.63"/><use href="#dm" x="584.88" y="821.4"/><use href="#dm" x="595.62" y="819.57"/><use href="#dm" x="606.36" y="834.76"/><use href="#dm" x="617.1" y="861.54"/><use href="#dm" x="627.84" y="897.65"/><use href="#dm" x="638.58" y="943.09"/><use href="#dm" x="649.32" y="994.09"/><use href="#dm" x="660.06" y="1046.61"/><use href="#dm" x="670.8" y="1094.61"/><use href="#dm" x="681.54" y="1140.08"/><use href="#dm" x="692.28" y="1180.92"/><use href="#dm" x="703.02" y="1212.72"/><use href="#dm" x="713.76" y="1239.2"/><use href="#dm" x="724.5" y="1260.91"/><use href="#dm" x="735.24" y="1278.55"/><use href="#dm" x="745.98" y="1290.04"/><use href="#dm" x="756.72" y="1298.67"/><use href="#dm" x="767.46" y="1306.43"/><use href="#dm" x="778.2" y="1312.1"/><use href="#dm" x="788.94" y="1316.25"/><use href="#dm" x="799.68" y="1319.72"/><use href="#dm" x="810.42" y="1320.85"/><use href="#dm" x="821.16" y="1322.39"/></g>
<path class="curve" stroke="#0000ff" stroke-width="4" d="M78.25 1332.7L79.75 1332.7L81.25 1332.7L82.75 1332.7L84.25 1332.7L85.75 1332.7L87.25 1332.7L88.75 1332.7L90.25 1332.7L91.75 1332.7L93.25 1332.7L94.75 1332.7L96.25 1332.7L97.75 1332.7L99.25 1332.7L100.75 1332.7L102.25 1332.7L103.75 1332.7L105.25 1332.7L106.75 1332.7L108.25 1332.7L109.75 1332.7L111.25 1332.7L112.75 1332.7L114.25 1332.7L115.75 1332.7L117.25 1332.7L118.75 1332.7L120.25 1332.7L121.75 1332.7L123.25 1332.7L124.75 1332.7L126.25 1332.7L127.75 1332.7L129.25 1332.7L130.75 1332.7L132.25 1332.7L133.75 1332.7L135.25 1332.7L136.75 1332.7L138.25 1332.7L139.75 1332.7L141.25 1332.7L142.75 1332.7L144.25 1332.7L145.75 1332.7L147.25 1332.7L148.75 1332.7L150.25 1332.7L151.75 1332.7L153.25 1332.7L154.75 1332.7L156.25 1332.7L157.75 1332.7L159.25 1332.7L160.75 1332.7L162.25 1332.7L163.75 1332.7L165.25 1332.7L166.75 1332.7L168.25 1332.7L169.75 1332.7L171.25 1332.7L172.75 1332.7L174.25 1332.7L175.75 1332.7L177.25 1332.7L178.75 1332.7L180.25 1332.7L181.75 1332.7L183.25 1332.7L184.75 1332.7L186.25 1332.7L187.75 1332.7L189.25 1332.7L190.75 1332.7L192.25 1332.7L193.75 1332.7L195.25 1332.7L196.75 1332.7L198.25 1332.7L199.75 1332.7L201.25 1332.7L202.75 1332.7L204.25 1332.7L205.75 1332.7L207.25 1332.7L208.75 1332.7L210.25 1332.7L211.75 1332.7L213.25 1332.7L214.75 1332.7L216.25 1332.7L217.75 1332.7L219.25 1332.7L220.75 1332.7L222.25 1332.7L223.75 1332.7L225.25 1332.7L226.75 1332.7L228.25 1332.7L229.75 1332.7L231.25 1332.7L232.75 1332.7L234.25 1332.7L235.75 1332.7L237.25 1332.7L238.75 1332.7L240.25 1332.7L241.75 1332.7L243.25 1332.7L244.75 1332.7L246.25 1332.7L247.75 1332.7L249.25 1332.7L250.75 1332.7L252.25 1332.7L253.75 1332.7L255.25 1332.7L256.75 1332.7L258.25 1332.7L259.75 1332.7L261.25 1332.7L262.75 1332.7L264.25 1332.7L265.75 1332.7L267.25 1332.7L268.75 1332.7L270.25 1332.7L271.75 1332.7L273.25 1332.7L274.75 1332.69L276.25 1332.69L277.75 1332.69L279.25 1332.69L280.75 1332.69L282.25 1332.69L283.75 1332.69L285.25 1332.69L286.75 1332.69L288.25 1332.69L289.75 1332.68L291.25 1332.68L292.75 1332.68L294.25 1332.68L295.75 1332.68L297.25 1332.67L298.75 1332.67L300.25 1332.67L301.75 1332.67L303.25 1332.66L304.75 1332.66L306.25 1332.65L307.75 1332.65L309.25 1332.64L310.75 1332.64L312.25 1332.63L313.75 1332.63L315.25 1332.62L316.75 1332.61L318.25 1332.6L319.75 1332.59L321.25 1332.58L322.75 1332.57L324.25 1332.56L325.75 1332.54L327.25 1332.53L328.75 1332.51L330.25 1332.49L331.75 1332.48L333.25 1332.45L334.75 1332.43L336.25 1332.41L337.75 1332.38L339.25 1332.35L340.75 1332.32L342.25 1332.29L343.75 1332.25L345.25 1332.21L346.75 1332.17L348.25 1332.12L349.75 1332.07L351.25 1332.02L352.75 1331.96L354.25 1331.9L355.75 1331.83L357.25 1331.75L358.75 1331.68L360.25 1331.59L361.75 1331.5L363.25 1331.4L364.75 1331.3L366.25 1331.18L367.75 1331.06L369.25 1330.93L370.75 1330.79L372.25 1330.64L373.75 1330.48L375.25 1330.31L376.75 1330.13L378.25 1329.93L379.75 1329.72L381.25 1329.5L382.75 1329.26L384.25 1329.01L385.75 1328.74L387.25 1328.45L388.75 1328.14L390.25 1327.82L391.75 1327.47L393.25 1327.1L394.75 1326.71L396.25 1326.29L397.75 1325.85L399.25 1325.38L400.75 1324.88L402.25 1324.36L403.75 1323.8L405.25 1323.21L406.75 1322.59L408.25 1321.93L409.75 1321.23L411.25 1320.5L412.75 1319.73L414.25 1318.91L415.75 1318.05L417.25 1317.14L418.75 1316.19L420.25 1315.19L421.75 1314.13L423.25 1313.03L424.75 1311.86L426.25 1310.64L427.75 1309.36L429.25 1308.02L430.75 1306.61L432.25 1305.14L433.75 1303.6L435.25 1301.99L436.75 1300.31L438.25 1298.56L439.75 1296.72L441.25 1294.81L442.75 1292.82L444.25 1290.74L445.75 1288.58L447.25 1286.33L448.75 1283.99L450.25 1281.56L451.75 1279.03L453.25 1276.41L454.75 1273.69L456.25 1270.88L457.75 1267.96L459.25 1264.93L460.75 1261.81L462.25 1258.57L463.75 1255.23L465.25 1251.78L466.75 1248.22L468.25 1244.55L469.75 1240.77L471.25 1236.87L472.75 1232.86L474.25 1228.73L475.75 1224.49L477.25 1220.14L478.75 1215.67L480.25 1211.08L481.75 1206.38L483.25 1201.56L484.75 1196.63L486.25 1191.59L487.75 1186.44L489.25 1181.18L490.75 1175.8L492.25 1170.32L493.75 1164.74L495.25 1159.05L496.75 1153.26L498.25 1147.38L499.75 1141.4L501.25 1135.32L502.75 1129.16L504.25 1122.92L505.75 1116.59L507.25 1110.19L508.75 1103.71L510.25 1097.17L511.75 1090.57L513.25 1083.9L514.75 1077.19L516.25 1070.43L517.75 1063.63L519.25 1056.79L520.75 1049.93L522.25 1043.04L523.75 1036.14L525.25 1029.23L526.75 1022.32L528.25 1015.41L529.75 1008.52L531.25 1001.64L532.75 994.8L534.25 987.98L535.75 981.22L537.25 974.5L538.75 967.84L540.25 961.25L541.75 954.74L543.25 948.31L544.75 941.97L546.25 935.73L547.75 929.59L549.25 923.57L550.75 917.68L552.25 911.91L553.75 906.29L555.25 900.81L556.75 895.48L558.25 890.32L559.75 885.33L561.25 880.51L562.75 875.87L564.25 871.43L565.75 867.17L567.25 863.13L568.75 859.28L570.25 855.66L571.75 852.25L573.25 849.06L574.75 846.11L576.25 843.39L577.75 840.9L579.25 838.66L580.75 836.66L582.25 834.91L583.75 833.41L585.25 832.16L586.75 831.16L588.25 830.42L589.75 829.94L591.25 829.72L592.75 829.75L594.25 830.05L595.75 830.61L597.25 831.43L598.75 832.52L600.25 833.86L601.75 835.46L603.25 837.31L604.75 839.41L606.25 841.77L607.75 844.36L609.25 847.2L610.75 850.27L612.25 853.58L613.75 857.11L615.25 860.86L616.75 864.82L618.25 869L619.75 873.37L621.25 877.95L622.75 882.71L624.25 887.66L625.75 892.78L627.25 898.07L628.75 903.52L630.25 909.13L631.75 914.88L633.25 920.76L634.75 926.78L636.25 932.91L637.75 939.16L639.25 945.52L640.75 951.96L642.25 958.5L643.75 965.12L645.25 971.8L646.75 978.55L648.25 985.36L649.75 992.21L651.25 999.1L652.75 1006.02L654.25 1012.96L655.75 1019.92L657.25 1026.89L658.75 1033.85L660.25 1040.81L661.75 1047.75L663.25 1054.68L664.75 1061.57L666.25 1068.43L667.75 1075.25L669.25 1082.03L670.75 1088.75L672.25 1095.42L673.75 1102.02L675.25 1108.55L676.75 1115.01L678.25 1121.39L679.75 1127.69L681.25 1133.91L682.75 1140.04L684.25 1146.07L685.75 1152.01L687.25 1157.84L688.75 1163.58L690.25 1169.21L691.75 1174.73L693.25 1180.14L694.75 1185.45L696.25 1190.64L697.75 1195.72L699.25 1200.68L700.75 1205.53L702.25 1210.26L703.75 1214.87L705.25 1219.37L706.75 1223.75L708.25 1228.01L709.75 1232.15L711.25 1236.18L712.75 1240.1L714.25 1243.9L715.75 1247.58L717.25 1251.15L718.75 1254.61L720.25 1257.96L721.75 1261.2L723.25 1264.33L724.75 1267.36L726.25 1270.28L727.75 1273.1L729.25 1275.82L730.75 1278.44L732.25 1280.97L733.75 1283.4L735.25 1285.73L736.75 1287.98L738.25 1290.14L739.75 1292.21L741.25 1294.2L742.75 1296.11L744.25 1297.93L745.75 1299.68L747.25 1301.36L748.75 1302.96L750.25 1304.49L751.75 1305.96L753.25 1307.36L754.75 1308.69L756.25 1309.97L757.75 1311.18L759.25 1312.34L760.75 1313.44L762.25 1314.49L763.75 1315.48L765.25 1316.43L766.75 1317.33L768.25 1318.19L769.75 1319L771.25 1319.77L772.75 1320.5L774.25 1321.19L775.75 1321.85L777.25 1322.47L778.75 1323.06L780.25 1323.61L781.75 1324.14L783.25 1324.63L784.75 1325.1L786.25 1325.55L787.75 1325.96L789.25 1326.36L790.75 1326.73L792.25 1327.08L793.75 1327.41L795.25 1327.72L796.75 1328.01L798.25 1328.28L799.75 1328.54L801.25 1328.78L802.75 1329.01L804.25 1329.23L805.75 1329.43L807.25 1329.62L808.75 1329.79L810.25 1329.96L811.75 1330.12L813.25 1330.26L814.75 1330.4L816.25 1330.53L817.75 1330.65L819.25 1330.76L820.75 1330.87L822.25 1330.97L823.75 1331.06L825.25 1331.15L826.75 1331.23L828.25 1331.31L829.75 1331.38L831.25 1331.45"/>
<path class="curve" stroke="#00ff00" stroke-width="4" d="M78.25 1332.7L79.75 1332.7L81.25 1332.7L82.75 1332.7L84.25 1332.7L85.75 1332.7L87.25 1332.7L88.75 1332.7L90.25 1332.7L91.75 1332.7L93.25 1332.7L94.75 1332.7L96.25 1332.7L97.75 1332.7L99.25 1332.7L100.75 1332.7L102.25 1332.7L103.75 1332.7L105.25 1332.7L106.75 1332.7L108.25 1332.7L109.75 1332.7L111.25 1332.7L112.75 1332.7L114.25 1332.7L115.75 1332.7L117.25 1332.7L118.75 1332.7L120.25 1332.7L121.75 1332.7L123.25 1332.7L124.75 1332.7L126.25 1332.7L127.75 1332.7L129.25 1332.7L130.75 1332.7L132.25 1332.7L133.75 1332.7L135.25 1332.7L136.75 1332.7L138.25 1332.7L139.75 1332.7L141.25 1332.7L142.75 1332.7L144.25 1332.7L145.75 1332.7L147.25 1332.7L148.75 1332.7L150.25 1332.7L151.75 1332.7L153.25 1332.7L154.75 1332.7L156.25 1332.7L157.75 1332.7L159.25 1332.7L160.75 1332.7L162.25 1332.7L163.75 1332.7L165.25 1332.7L166.75 1332.7L168.25 1332.7L169.75 1332.7L171.25 1332.7L172.75 1332.7L174.25 1332.7L175.75 1332.7L177.25 1332.7L178.75 1332.7L180.25 1332.7L181.75 1332.7L183.25 1332.7L184.75 1332.7L186.25 1332.7L187.75 1332.7L189.25 1332.7L190.75 1332.7L192.25 1332.7L193.75 1332.69L195.25 1332.69L196.75 1332.69L198.25 1332.69L199.75 1332.69L201.25 1332.69L202.75 1332.69L204.25 1332.69L205.75 1332.69L207.25 1332.68L208.75 1332.68L210.25 1332.68L211.75 1332.68L213.25 1332.68L214.75 1332.67L216.25 1332.67L217.75 1332.67L219.25 1332.66L220.75 1332.66L222.25 1332.65L223.75 1332.65L225.25 1332.64L226.75 1332.63L228.25 1332.63L229.75 1332.62L231.25 1332.61L232.75 1332.6L234.25 1332.59L235.75 1332.58L237.25 1332.56L238.75 1332.55L240.25 1332.53L241.75 1332.51L243.25 1332.49L244.75 1332.47L246.25 1332.45L247.75 1332.43L249.25 1332.4L250.75 1332.37L252.25 1332.33L253.75 1332.3L255.25 1332.26L256.75 1332.22L258.25 1332.17L259.75 1332.12L261.25 1332.07L262.75 1332.01L264.25 1331.95L265.75 1331.88L267.25 1331.81L268.75 1331.73L270.25 1331.64L271.75 1331.55L273.25 1331.45L274.75 1331.35L276.25 1331.23L277.75 1331.11L279.25 1330.98L280.75 1330.84L282.25 1330.69L283.75 1330.53L285.25 1330.35L286.75 1330.17L288.25 1329.97L289.75 1329.77L291.25 1329.54L292.75 1329.31L294.25 1329.06L295.75 1328.79L297.25 1328.51L298.75 1328.21L300.25 1327.89L301.75 1327.56L303.25 1327.2L304.75 1326.83L306.25 1326.44L307.75 1326.02L309.25 1325.58L310.75 1325.13L312.25 1324.64L313.75 1324.14L315.25 1323.61L316.75 1323.05L318.25 1322.47L319.75 1321.86L321.25 1321.23L322.75 1320.56L324.25 1319.87L325.75 1319.16L327.25 1318.41L328.75 1317.63L330.25 1316.82L331.75 1315.99L333.25 1315.12L334.75 1314.23L336.25 1313.3L337.75 1312.34L339.25 1311.36L340.75 1310.34L342.25 1309.3L343.75 1308.22L345.25 1307.12L346.75 1305.99L348.25 1304.83L349.75 1303.64L351.25 1302.43L352.75 1301.19L354.25 1299.92L355.75 1298.64L357.25 1297.33L358.75 1296L360.25 1294.65L361.75 1293.28L363.25 1291.9L364.75 1290.5L366.25 1289.09L367.75 1287.67L369.25 1286.24L370.75 1284.8L372.25 1283.35L373.75 1281.91L375.25 1280.46L376.75 1279.02L378.25 1277.57L379.75 1276.14L381.25 1274.71L382.75 1273.3L384.25 1271.9L385.75 1270.52L387.25 1269.16L388.75 1267.82L390.25 1266.5L391.75 1265.21L393.25 1263.95L394.75 1262.73L396.25 1261.54L397.75 1260.38L399.25 1259.27L400.75 1258.2L402.25 1257.18L403.75 1256.2L405.25 1255.27L406.75 1254.39L408.25 1253.57L409.75 1252.8L411.25 1252.09L412.75 1251.43L414.25 1250.84L415.75 1250.31L417.25 1249.84L418.75 1249.44L420.25 1249.1L421.75 1248.83L423.25 1248.62L424.75 1248.48L426.25 1248.41L427.75 1248.41L429.25 1248.47L430.75 1248.6L432.25 1248.8L433.75 1249.06L435.25 1249.39L436.75 1249.79L438.25 1250.25L439.75 1250.77L441.25 1251.35L442.75 1252L444.25 1252.7L445.75 1253.46L447.25 1254.28L448.75 1255.15L450.25 1256.07L451.75 1257.04L453.25 1258.06L454.75 1259.13L456.25 1260.23L457.75 1261.38L459.25 1262.57L460.75 1263.79L462.25 1265.04L463.75 1266.33L465.25 1267.64L466.75 1268.98L468.25 1270.34L469.75 1271.72L471.25 1273.11L472.75 1274.53L474.25 1275.95L475.75 1277.38L477.25 1278.82L478.75 1280.27L480.25 1281.71L481.75 1283.16L483.25 1284.6L484.75 1286.04L486.25 1287.48L487.75 1288.9L489.25 1290.31L490.75 1291.71L492.25 1293.1L493.75 1294.47L495.25 1295.82L496.75 1297.15L498.25 1298.46L499.75 1299.75L501.25 1301.02L502.75 1302.26L504.25 1303.48L505.75 1304.67L507.25 1305.83L508.75 1306.97L510.25 1308.08L511.75 1309.16L513.25 1310.2L514.75 1311.22L516.25 1312.21L517.75 1313.18L519.25 1314.11L520.75 1315.01L522.25 1315.88L523.75 1316.71L525.25 1317.53L526.75 1318.31L528.25 1319.06L529.75 1319.78L531.25 1320.47L532.75 1321.14L534.25 1321.78L535.75 1322.39L537.25 1322.97L538.75 1323.53L540.25 1324.07L541.75 1324.58L543.25 1325.06L544.75 1325.53L546.25 1325.96L547.75 1326.38L549.25 1326.78L550.75 1327.16L552.25 1327.51L553.75 1327.85L555.25 1328.17L556.75 1328.47L558.25 1328.75L559.75 1329.02L561.25 1329.28L562.75 1329.51L564.25 1329.74L565.75 1329.95L567.25 1330.14L568.75 1330.33L570.25 1330.5L571.75 1330.67L573.25 1330.82L574.75 1330.96L576.25 1331.09L577.75 1331.22L579.25 1331.33L580.75 1331.44L582.25 1331.54L583.75 1331.63L585.25 1331.72L586.75 1331.8L588.25 1331.87L589.75 1331.94L591.25 1332L592.75 1332.06L594.25 1332.12L595.75 1332.17L597.25 1332.21L598.75 1332.26L600.25 1332.29L601.75 1332.33L603.25 1332.36L604.75 1332.39L606.25 1332.42L607.75 1332.45L609.25 1332.47L610.75 1332.49L612.25 1332.51L613.75 1332.53L615.25 1332.55L616.75 1332.56L618.25 1332.57L619.75 1332.59L621.25 1332.6L622.75 1332.61L624.25 1332.62L625.75 1332.62L627.25 1332.63L628.75 1332.64L630.25 1332.65L631.75 1332.65L633.25 1332.66L634.75 1332.66L636.25 1332.66L637.75 1332.67L639.25 1332.67L640.75 1332.68L642.25 1332.68L643.75 1332.68L645.25 1332.68L646.75 1332.68L648.25 1332.69L649.75 1332.69L651.25 1332.69L652.75 1332.69L654.25 1332.69L655.75 1332.69L657.25 1332.69L658.75 1332.69L660.25 1332.69L661.75 1332.7L663.25 1332.7L664.75 1332.7L666.25 1332.7L667.75 1332.7L669.25 1332.7L670.75 1332.7L672.25 1332.7L673.75 1332.7L675.25 1332.7L676.75 1332.7L678.25 1332.7L679.75 1332.7L681.25 1332.7L682.75 1332.7L684.25 1332.7L685.75 1332.7L687.25 1332.7L688.75 1332.7L690.25 1332.7L691.75 1332.7L693.25 1332.7L694.75 1332.7L696.25 1332.7L697.75 1332.7L699.25 1332.7L700.75 1332.7L702.25 1332.7L703.75 1332.7L705.25 1332.7L706.75 1332.7L708.25 1332.7L709.75 1332.7L711.25 1332.7L712.75 1332.7L714.25 1332.7L715.75 1332.7L717.25 1332.7L718.75 1332.7L720.25 1332.7L721.75 1332.7L723.25 1332.7L724.75 1332.7L726.25 1332.7L727.75 1332.7L729.25 1332.7L730.75 1332.7L732.25 1332.7L733.75 1332.7L735.25 1332.7L736.75 1332.7L738.25 1332.7L739.75 1332.7L741.25 1332.7L742.75 1332.7L744.25 1332.7L745.75 1332.7L747.25 1332.7L748.75 1332.7L750.25 1332.7L751.75 1332.7L753.25 1332.7L754.75 1332.7L756.25 1332.7L757.75 1332.7L759.25 1332.7L760.75 1332.7L762.25 1332.7L763.75 1332.7L765.25 1332.7L766.75 1332.7L768.25 1332.7L769.75 1332.7L771.25 1332.7L772.75 1332.7L774.25 1332.7L775.75 1332.7L777.25 1332.7L778.75 1332.7L780.25 1332.7L781.75 1332.7L783.25 1332.7L784.75 1332.7L786.25 1332.7L787.75 1332.7L789.25 1332.7L790.75 1332.7L792.25 1332.7L793.75 1332.7L795.25 1332.7L796.75 1332.7L798.25 1332.7L799.75 1332.7L801.25 1332.7L802.75 1332.7L804.25 1332.7L805.75 1332.7L807.25 1332.7L808.75 1332.7L810.25 1332.7L811.75 1332.7L813.25 1332.7L814.75 1332.7L816.25 1332.7L817.75 1332.7L819.25 1332.7L820.75 1332.7L822.25 1332.7L823.75 1332.7L825.25 1332.7L826.75 1332.7L828.25 1332.7L829.75 1332.7L831.25 1332.7"/>
<path class="curve" stroke="#808000" stroke-width="4" d="M78.25 1331.23L79.75 1331.17L81.25 1331.11L82.75 1331.05L84.25 1330.98L85.75 1330.92L87.25 1330.85L88.75 1330.77L90.25 1330.7L91.75 1330.62L93.25 1330.54L94.75 1330.46L96.25 1330.38L97.75 1330.29L99.25 1330.2L100.75 1330.11L102.25 1330.01L103.75 1329.91L105.25 1329.81L106.75 1329.71L108.25 1329.6L109.75 1329.49L111.25 1329.38L112.75 1329.26L114.25 1329.14L115.75 1329.01L117.25 1328.89L118.75 1328.76L120.25 1328.62L121.75 1328.48L123.25 1328.34L124.75 1328.19L126.25 1328.04L127.75 1327.89L129.25 1327.73L130.75 1327.57L132.25 1327.4L133.75 1327.23L135.25 1327.06L136.75 1326.88L138.25 1326.7L139.75 1326.51L141.25 1326.32L142.75 1326.12L144.25 1325.92L145.75 1325.71L147.25 1325.5L148.75 1325.29L150.25 1325.07L151.75 1324.84L153.25 1324.61L154.75 1324.38L156.25 1324.14L157.75 1323.89L159.25 1323.64L160.75 1323.39L162.25 1323.13L163.75 1322.86L165.25 1322.59L166.75 1322.32L168.25 1322.04L169.75 1321.75L171.25 1321.46L172.75 1321.16L174.25 1320.86L175.75 1320.56L177.25 1320.24L178.75 1319.93L180.25 1319.6L181.75 1319.28L183.25 1318.94L184.75 1318.6L186.25 1318.26L187.75 1317.91L189.25 1317.56L190.75 1317.2L192.25 1316.84L193.75 1316.47L195.25 1316.09L196.75 1315.71L198.25 1315.33L199.75 1314.94L201.25 1314.55L202.75 1314.15L204.25 1313.75L205.75 1313.34L207.25 1312.93L208.75 1312.51L210.25 1312.09L211.75 1311.67L213.25 1311.24L214.75 1310.8L216.25 1310.37L217.75 1309.93L219.25 1309.48L220.75 1309.03L222.25 1308.58L223.75 1308.13L225.25 1307.67L226.75 1307.21L228.25 1306.75L229.75 1306.28L231.25 1305.81L232.75 1305.34L234.25 1304.87L235.75 1304.39L237.25 1303.91L238.75 1303.44L240.25 1302.95L241.75 1302.47L243.25 1301.99L244.75 1301.51L246.25 1301.02L247.75 1300.54L249.25 1300.05L250.75 1299.56L252.25 1299.08L253.75 1298.59L255.25 1298.11L256.75 1297.62L258.25 1297.14L259.75 1296.65L261.25 1296.17L262.75 1295.69L264.25 1295.22L265.75 1294.74L267.25 1294.27L268.75 1293.8L270.25 1293.33L271.75 1292.86L273.25 1292.4L274.75 1291.94L276.25 1291.49L277.75 1291.03L279.25 1290.59L280.75 1290.15L282.25 1289.71L283.75 1289.27L285.25 1288.85L286.75 1288.42L288.25 1288.01L289.75 1287.6L291.25 1287.19L292.75 1286.79L294.25 1286.4L295.75 1286.01L297.25 1285.64L298.75 1285.27L300.25 1284.9L301.75 1284.55L303.25 1284.2L304.75 1283.86L306.25 1283.52L307.75 1283.2L309.25 1282.89L310.75 1282.58L312.25 1282.28L313.75 1281.99L315.25 1281.72L316.75 1281.45L318.25 1281.19L319.75 1280.94L321.25 1280.7L322.75 1280.47L324.25 1280.25L325.75 1280.04L327.25 1279.84L328.75 1279.66L330.25 1279.48L331.75 1279.32L333.25 1279.16L334.75 1279.02L336.25 1278.89L337.75 1278.77L339.25 1278.66L340.75 1278.56L342.25 1278.47L343.75 1278.4L345.25 1278.34L346.75 1278.29L348.25 1278.25L349.75 1278.22L351.25 1278.2L352.75 1278.2L354.25 1278.21L355.75 1278.23L357.25 1278.27L358.75 1278.31L360.25 1278.37L361.75 1278.45L363.25 1278.53L364.75 1278.63L366.25 1278.74L367.75 1278.87L369.25 1279.01L370.75 1279.16L372.25 1279.32L373.75 1279.49L375.25 1279.68L376.75 1279.88L378.25 1280.09L379.75 1280.31L381.25 1280.54L382.75 1280.79L384.25 1281.04L385.75 1281.31L387.25 1281.59L388.75 1281.88L390.25 1282.17L391.75 1282.48L393.25 1282.8L394.75 1283.13L396.25 1283.47L397.75 1283.82L399.25 1284.18L400.75 1284.54L402.25 1284.92L403.75 1285.3L405.25 1285.69L406.75 1286.09L408.25 1286.5L409.75 1286.91L411.25 1287.33L412.75 1287.76L414.25 1288.2L415.75 1288.64L417.25 1289.08L418.75 1289.54L420.25 1290L421.75 1290.46L423.25 1290.93L424.75 1291.4L426.25 1291.88L427.75 1292.36L429.25 1292.85L430.75 1293.34L432.25 1293.83L433.75 1294.33L435.25 1294.82L436.75 1295.32L438.25 1295.83L439.75 1296.33L441.25 1296.84L442.75 1297.35L444.25 1297.86L445.75 1298.37L447.25 1298.88L448.75 1299.39L450.25 1299.9L451.75 1300.41L453.25 1300.92L454.75 1301.43L456.25 1301.94L457.75 1302.45L459.25 1302.96L460.75 1303.46L462.25 1303.96L463.75 1304.47L465.25 1304.97L466.75 1305.46L468.25 1305.96L469.75 1306.45L471.25 1306.94L472.75 1307.43L474.25 1307.91L475.75 1308.39L477.25 1308.86L478.75 1309.34L480.25 1309.8L481.75 1310.27L483.25 1310.73L484.75 1311.18L486.25 1311.64L487.75 1312.08L489.25 1312.53L490.75 1312.96L492.25 1313.4L493.75 1313.82L495.25 1314.25L496.75 1314.66L498.25 1315.07L499.75 1315.48L501.25 1315.88L502.75 1316.28L504.25 1316.67L505.75 1317.05L507.25 1317.43L508.75 1317.81L510.25 1318.18L511.75 1318.54L513.25 1318.9L514.75 1319.25L516.25 1319.59L517.75 1319.93L519.25 1320.26L520.75 1320.59L522.25 1320.91L523.75 1321.23L525.25 1321.54L526.75 1321.84L528.25 1322.14L529.75 1322.44L531.25 1322.72L532.75 1323L534.25 1323.28L535.75 1323.55L537.25 1323.81L538.75 1324.07L540.25 1324.33L541.75 1324.58L543.25 1324.82L544.75 1325.05L546.25 1325.29L547.75 1325.51L549.25 1325.73L550.75 1325.95L552.25 1326.16L553.75 1326.37L555.25 1326.57L556.75 1326.76L558.25 1326.95L559.75 1327.14L561.25 1327.32L562.75 1327.5L564.25 1327.67L565.75 1327.84L567.25 1328L568.75 1328.16L570.25 1328.31L571.75 1328.46L573.25 1328.61L574.75 1328.75L576.25 1328.89L577.75 1329.02L579.25 1329.15L580.75 1329.28L582.25 1329.4L583.75 1329.52L585.25 1329.64L586.75 1329.75L588.25 1329.86L589.75 1329.96L591.25 1330.06L592.75 1330.16L594.25 1330.26L595.75 1330.35L597.25 1330.44L598.75 1330.53L600.25 1330.61L601.75 1330.69L603.25 1330.77L604.75 1330.85L606.25 1330.92L607.75 1330.99L609.25 1331.06L610.75 1331.13L612.25 1331.19L613.75 1331.25L615.25 1331.31L616.75 1331.37L618.25 1331.42L619.75 1331.48L621.25 1331.53L622.75 1331.58L624.25 1331.62L625.75 1331.67L627.25 1331.71L628.75 1331.76L630.25 1331.8L631.75 1331.84L633.25 1331.87L634.75 1331.91L636.25 1331.94L637.75 1331.98L639.25 1332.01L640.75 1332.04L642.25 1332.07L643.75 1332.1L645.25 1332.13L646.75 1332.15L648.25 1332.18L649.75 1332.2L651.25 1332.23L652.75 1332.25L654.25 1332.27L655.75 1332.29L657.25 1332.31L658.75 1332.33L660.25 1332.34L661.75 1332.36L663.25 1332.38L664.75 1332.39L666.25 1332.41L667.75 1332.42L669.25 1332.44L670.75 1332.45L672.25 1332.46L673.75 1332.47L675.25 1332.49L676.75 1332.5L678.25 1332.51L679.75 1332.52L681.25 1332.53L682.75 1332.53L684.25 1332.54L685.75 1332.55L687.25 1332.56L688.75 1332.57L690.25 1332.57L691.75 1332.58L693.25 1332.59L694.75 1332.59L696.25 1332.6L697.75 1332.6L699.25 1332.61L700.75 1332.61L702.25 1332.62L703.75 1332.62L705.25 1332.63L706.75 1332.63L708.25 1332.63L709.75 1332.64L711.25 1332.64L712.75 1332.64L714.25 1332.65L715.75 1332.65L717.25 1332.65L718.75 1332.66L720.25 1332.66L721.75 1332.66L723.25 1332.66L724.75 1332.67L726.25 1332.67L727.75 1332.67L729.25 1332.67L730.75 1332.67L732.25 1332.67L733.75 1332.68L735.25 1332.68L736.75 1332.68L738.25 1332.68L739.75 1332.68L741.25 1332.68L742.75 1332.68L744.25 1332.68L745.75 1332.69L747.25 1332.69L748.75 1332.69L750.25 1332.69L751.75 1332.69L753.25 1332.69L754.75 1332.69L756.25 1332.69L757.75 1332.69L759.25 1332.69L760.75 1332.69L762.25 1332.69L763.75 1332.69L765.25 1332.69L766.75 1332.69L768.25 1332.69L769.75 1332.69L771.25 1332.7L772.75 1332.7L774.25 1332.7L775.75 1332.7L777.25 1332.7L778.75 1332.7L780.25 1332.7L781.75 1332.7L783.25 1332.7L784.75 1332.7L786.25 1332.7L787.75 1332.7L789.25 1332.7L790.75 1332.7L792.25 1332.7L793.75 1332.7L795.25 1332.7L796.75 1332.7L798.25 1332.7L799.75 1332.7L801.25 1332.7L802.75 1332.7L804.25 1332.7L805.75 1332.7L807.25 1332.7L808.75 1332.7L810.25 1332.7L811.75 1332.7L813.25 1332.7L814.75 1332.7L816.25 1332.7L817.75 1332.7L819.25 1332.7L820.75 1332.7L822.25 1332.7L823.75 1332.7L825.25 1332.7L826.75 1332.7L828.25 1332.7L829.75 1332.7L831.25 1332.7"/>
<path class="curve" stroke="#000000" stroke-width="4.4" d="M78.25 1331.23L79.75 1331.17L81.25 1331.11L82.75 1331.05L84.25 1330.98L85.75 1330.92L87.25 1330.85L88.75 1330.77L90.25 1330.7L91.75 1330.62L93.25 1330.54L94.75 1330.46L96.25 1330.38L97.75 1330.29L99.25 1330.2L100.75 1330.11L102.25 1330.01L103.75 1329.91L105.25 1329.81L106.75 1329.71L108.25 1329.6L109.75 1329.49L111.25 1329.38L112.75 1329.26L114.25 1329.14L115.75 1329.01L117.25 1328.89L118.75 1328.76L120.25 1328.62L121.75 1328.48L123.25 1328.34L124.75 1328.19L126.25 1328.04L127.75 1327.89L129.25 1327.73L130.75 1327.57L132.25 1327.4L133.75 1327.23L135.25 1327.06L136.75 1326.88L138.25 1326.7L139.75 1326.51L141.25 1326.32L142.75 1326.12L144.25 1325.92L145.75 1325.71L147.25 1325.5L148.75 1325.29L150.25 1325.07L151.75 1324.84L153.25 1324.61L154.75 1324.38L156.25 1324.14L157.75 1323.89L159.25 1323.64L160.75 1323.39L162.25 1323.13L163.75 1322.86L165.25 1322.59L166.75 1322.32L168.25 1322.04L169.75 1321.75L171.25 1321.46L172.75 1321.16L174.25 1320.86L175.75 1320.55L177.25 1320.24L178.75 1319.93L180.25 1319.6L181.75 1319.27L183.25 1318.94L184.75 1318.6L186.25 1318.26L187.75 1317.91L189.25 1317.56L190.75 1317.2L192.25 1316.83L193.75 1316.46L195.25 1316.09L196.75 1315.71L198.25 1315.32L199.75 1314.93L201.25 1314.54L202.75 1314.14L204.25 1313.73L205.75 1313.33L207.25 1312.91L208.75 1312.49L210.25 1312.07L211.75 1311.64L213.25 1311.21L214.75 1310.78L216.25 1310.34L217.75 1309.89L219.25 1309.44L220.75 1308.99L222.25 1308.54L223.75 1308.08L225.25 1307.61L226.75 1307.14L228.25 1306.67L229.75 1306.2L231.25 1305.72L232.75 1305.24L234.25 1304.75L235.75 1304.27L237.25 1303.78L238.75 1303.28L240.25 1302.78L241.75 1302.28L243.25 1301.78L244.75 1301.28L246.25 1300.77L247.75 1300.26L249.25 1299.74L250.75 1299.22L252.25 1298.7L253.75 1298.18L255.25 1297.66L256.75 1297.13L258.25 1296.6L259.75 1296.06L261.25 1295.52L262.75 1294.98L264.25 1294.44L265.75 1293.89L267.25 1293.33L268.75 1292.78L270.25 1292.21L271.75 1291.65L273.25 1291.08L274.75 1290.5L276.25 1289.92L277.75 1289.33L279.25 1288.73L280.75 1288.13L282.25 1287.52L283.75 1286.9L285.25 1286.27L286.75 1285.64L288.25 1284.99L289.75 1284.33L291.25 1283.67L292.75 1282.99L294.25 1282.3L295.75 1281.59L297.25 1280.87L298.75 1280.14L300.25 1279.39L301.75 1278.63L303.25 1277.85L304.75 1277.05L306.25 1276.24L307.75 1275.41L309.25 1274.56L310.75 1273.69L312.25 1272.81L313.75 1271.9L315.25 1270.98L316.75 1270.03L318.25 1269.07L319.75 1268.09L321.25 1267.08L322.75 1266.06L324.25 1265.02L325.75 1263.96L327.25 1262.88L328.75 1261.78L330.25 1260.66L331.75 1259.53L333.25 1258.38L334.75 1257.22L336.25 1256.04L337.75 1254.84L339.25 1253.63L340.75 1252.41L342.25 1251.18L343.75 1249.93L345.25 1248.67L346.75 1247.4L348.25 1246.13L349.75 1244.84L351.25 1243.55L352.75 1242.25L354.25 1240.94L355.75 1239.63L357.25 1238.31L358.75 1236.99L360.25 1235.67L361.75 1234.35L363.25 1233.02L364.75 1231.69L366.25 1230.37L367.75 1229.04L369.25 1227.71L370.75 1226.39L372.25 1225.07L373.75 1223.75L375.25 1222.43L376.75 1221.12L378.25 1219.81L379.75 1218.51L381.25 1217.21L382.75 1215.93L384.25 1214.65L385.75 1213.38L387.25 1212.12L388.75 1210.87L390.25 1209.64L391.75 1208.41L393.25 1207.21L394.75 1206.01L396.25 1204.84L397.75 1203.68L399.25 1202.54L400.75 1201.41L402.25 1200.31L403.75 1199.23L405.25 1198.17L406.75 1197.13L408.25 1196.12L409.75 1195.12L411.25 1194.15L412.75 1193.21L414.25 1192.29L415.75 1191.4L417.25 1190.53L418.75 1189.7L420.25 1188.89L421.75 1188.1L423.25 1187.35L424.75 1186.62L426.25 1185.91L427.75 1185.23L429.25 1184.57L430.75 1183.93L432.25 1183.29L433.75 1182.67L435.25 1182.04L436.75 1181.4L438.25 1180.74L439.75 1180.05L441.25 1179.34L442.75 1178.57L444.25 1177.76L445.75 1176.89L447.25 1175.96L448.75 1174.97L450.25 1173.9L451.75 1172.77L453.25 1171.57L454.75 1170.3L456.25 1168.97L457.75 1167.56L459.25 1166.09L460.75 1164.55L462.25 1162.94L463.75 1161.26L465.25 1159.51L466.75 1157.69L468.25 1155.79L469.75 1153.8L471.25 1151.73L472.75 1149.57L474.25 1147.31L475.75 1144.95L477.25 1142.49L478.75 1139.92L480.25 1137.23L481.75 1134.43L483.25 1131.51L484.75 1128.47L486.25 1125.31L487.75 1122.03L489.25 1118.62L490.75 1115.08L492.25 1111.42L493.75 1107.63L495.25 1103.72L496.75 1099.68L498.25 1095.51L499.75 1091.23L501.25 1086.83L502.75 1082.3L504.25 1077.66L505.75 1072.91L507.25 1068.05L508.75 1063.09L510.25 1058.02L511.75 1052.86L513.25 1047.6L514.75 1042.26L516.25 1036.84L517.75 1031.33L519.25 1025.76L520.75 1020.12L522.25 1014.43L523.75 1008.68L525.25 1002.89L526.75 997.07L528.25 991.21L529.75 985.33L531.25 979.44L532.75 973.54L534.25 967.64L535.75 961.76L537.25 955.89L538.75 950.05L540.25 944.25L541.75 938.49L543.25 932.79L544.75 927.15L546.25 921.58L547.75 916.09L549.25 910.68L550.75 905.38L552.25 900.18L553.75 895.1L555.25 890.14L556.75 885.32L558.25 880.63L559.75 876.09L561.25 871.7L562.75 867.48L564.25 863.43L565.75 859.56L567.25 855.87L568.75 852.37L570.25 849.07L571.75 845.98L573.25 843.09L574.75 840.42L576.25 837.97L577.75 835.74L579.25 833.74L580.75 831.98L582.25 830.45L583.75 829.16L585.25 828.11L586.75 827.31L588.25 826.75L589.75 826.44L591.25 826.39L592.75 826.58L594.25 827.03L595.75 827.73L597.25 828.69L598.75 829.9L600.25 831.37L601.75 833.08L603.25 835.04L604.75 837.25L606.25 839.71L607.75 842.4L609.25 845.33L610.75 848.49L612.25 851.88L613.75 855.48L615.25 859.31L616.75 863.35L618.25 867.59L619.75 872.04L621.25 876.67L622.75 881.5L624.25 886.5L625.75 891.68L627.25 897.02L628.75 902.52L630.25 908.17L631.75 913.96L633.25 919.89L634.75 925.95L636.25 932.12L637.75 938.41L639.25 944.8L640.75 951.28L642.25 957.85L643.75 964.5L645.25 971.21L646.75 977.99L648.25 984.82L649.75 991.7L651.25 998.61L652.75 1005.56L654.25 1012.52L655.75 1019.5L657.25 1026.49L658.75 1033.47L660.25 1040.45L661.75 1047.41L663.25 1054.35L664.75 1061.26L666.25 1068.14L667.75 1074.97L669.25 1081.76L670.75 1088.5L672.25 1095.18L673.75 1101.79L675.25 1108.33L676.75 1114.8L678.25 1121.2L679.75 1127.51L681.25 1133.73L682.75 1139.87L684.25 1145.91L685.75 1151.86L687.25 1157.7L688.75 1163.44L690.25 1169.08L691.75 1174.61L693.25 1180.03L694.75 1185.34L696.25 1190.54L697.75 1195.62L699.25 1200.59L700.75 1205.44L702.25 1210.17L703.75 1214.79L705.25 1219.29L706.75 1223.68L708.25 1227.94L709.75 1232.09L711.25 1236.13L712.75 1240.04L714.25 1243.84L715.75 1247.53L717.25 1251.11L718.75 1254.57L720.25 1257.92L721.75 1261.16L723.25 1264.3L724.75 1267.33L726.25 1270.25L727.75 1273.07L729.25 1275.79L730.75 1278.42L732.25 1280.94L733.75 1283.37L735.25 1285.71L736.75 1287.96L738.25 1290.12L739.75 1292.19L741.25 1294.18L742.75 1296.09L744.25 1297.92L745.75 1299.67L747.25 1301.34L748.75 1302.95L750.25 1304.48L751.75 1305.95L753.25 1307.35L754.75 1308.68L756.25 1309.96L757.75 1311.17L759.25 1312.33L760.75 1313.43L762.25 1314.48L763.75 1315.48L765.25 1316.43L766.75 1317.33L768.25 1318.18L769.75 1319L771.25 1319.77L772.75 1320.5L774.25 1321.19L775.75 1321.85L777.25 1322.47L778.75 1323.05L780.25 1323.61L781.75 1324.14L783.25 1324.63L784.75 1325.1L786.25 1325.54L787.75 1325.96L789.25 1326.35L790.75 1326.73L792.25 1327.08L793.75 1327.41L795.25 1327.72L796.75 1328.01L798.25 1328.28L799.75 1328.54L801.25 1328.78L802.75 1329.01L804.25 1329.23L805.75 1329.43L807.25 1329.62L808.75 1329.79L810.25 1329.96L811.75 1330.12L813.25 1330.26L814.75 1330.4L816.25 1330.53L817.75 1330.65L819.25 1330.76L820.75 1330.87L822.25 1330.97L823.75 1331.06L825.25 1331.15L826.75 1331.23L828.25 1331.31L829.75 1331.38L831.25 1331.44"/>
</g>
<rect x="78.25" y="753.05" width="751.5" height="606.2" fill="none" stroke="#000" stroke-width="5.4"/>
<path d="M78.25 1359.25V1371M185.61 1359.25V1371M292.96 1359.25V1371M400.32 1359.25V1371M507.68 1359.25V1371M615.03 1359.25V1371M722.39 1359.25V1371M829.75 1359.25V1371M131.93 1359.25V1365.2M239.29 1359.25V1365.2M346.64 1359.25V1365.2M454 1359.25V1365.2M561.36 1359.25V1365.2M668.71 1359.25V1365.2M776.07 1359.25V1365.2" stroke="#000" stroke-width="5.4" fill="none"/>
<text x="78.25" y="1404" font-size="30.4" text-anchor="middle">535</text>
<text x="185.61" y="1404" font-size="30.4" text-anchor="middle">534</text>
<text x="292.96" y="1404" font-size="30.4" text-anchor="middle">533</text>
<text x="400.32" y="1404" font-size="30.4" text-anchor="middle">532</text>
<text x="507.68" y="1404" font-size="30.4" text-anchor="middle">531</text>
<text x="615.03" y="1404" font-size="30.4" text-anchor="middle">530</text>
<text x="722.39" y="1404" font-size="30.4" text-anchor="middle">529</text>
<text x="829.75" y="1404" font-size="30.4" text-anchor="middle">528</text>
<text x="89.7" y="794.8" font-size="32.4">(d)</text>
<text x="610.6" y="816.6" font-size="31.4">O<tspan font-size="21" dy="8.3">L</tspan></text>
<text x="392.1" y="1151.2" font-size="31.4">O<tspan font-size="21" dy="9">C</tspan></text>
<text x="258.7" y="1239.8" font-size="31.4">O=C</text>
<text x="454.5" y="1463.5" font-size="40.2" text-anchor="middle">Binding Energy (eV)</text>
<text transform="translate(50.9 1057.4) rotate(-90)" font-size="40.2" text-anchor="middle">Intensity (a.u.)</text>
</svg>
</body>
</html>
